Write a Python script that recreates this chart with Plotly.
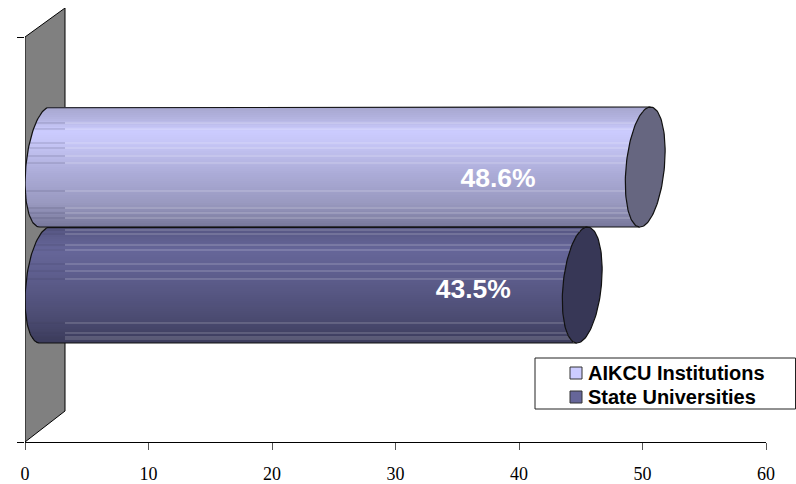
import numpy as np
import plotly.graph_objects as go

series_names = ["AIKCU Institutions", "State Universities"]
series_values = [48.6, 43.5]
x_ticks = [0, 10, 20, 30, 40, 50, 60]
legend_colors = ["#ccccff", "#666699"]
end_colors = ["#666680", "#373756"]
bar_centers = [275, 157]
bar_half = [60, 58]
light_streaks = [
    [16, 22, 36, 41, 49, 56, 84, 101, 106, 111],
    [3, 7, 18, 23, 37, 44, 52, 96, 106, 110, 112],
]
grad_stops = [
    [(0, "#a6a6cf"), (0.1, "#b4b4e0"), (0.2, "#ccccff"), (0.32, "#c4c4f4"), (0.55, "#acacd8"), (0.8, "#9999c0"), (1, "#77779a")],
    [(0, "#565682"), (0.1, "#5e5e8e"), (0.2, "#666699"), (0.4, "#5e5e8e"), (0.6, "#555580"), (0.8, "#4a4a70"), (1, "#3c3c5c")],
]

PX = 741 / 60.0          # pixels per axis unit
DEPTH = 20 / PX          # 3-D offset of the bar centres
WALL = 40 / PX           # width of the side wall
A = 19.2 / PX            # ellipse half width
SLANT = 5.3 / PX         # ellipse tilt


def hex2rgb(h):
    return np.array([int(h[i:i + 2], 16) for i in (1, 3, 5)], float)


def shade(stops, t):
    ts = [s[0] for s in stops]
    cols = np.array([hex2rgb(s[1]) for s in stops])
    rgb = [np.interp(t, ts, cols[:, k]) for k in range(3)]
    return "rgb(%d,%d,%d)" % tuple(round(c) for c in rgb)


fig = go.Figure()

# solid bars carrying the series names
for i, (name, val) in enumerate(zip(series_names, series_values)):
    fig.add_trace(go.Bar(
        name=name, orientation="h", y=[bar_centers[i]], x=[val], base=[DEPTH],
        width=[bar_half[i] * 1.6], marker=dict(color=legend_colors[i], line=dict(width=0)),
        hoverinfo="skip", showlegend=False,
    ))

# cylinder shading
for i, val in enumerate(series_values):
    yc, H = bar_centers[i], bar_half[i]
    n = int(H)
    edges = np.linspace(-1, 1, n + 1)
    v = (edges[:-1] + edges[1:]) / 2
    s = SLANT * v
    w = A * np.sqrt(1 - v ** 2)
    fig.add_trace(go.Bar(
        orientation="h", y=yc + v * H, x=[val] * n, base=DEPTH + s - w,
        width=[2 * H / n + 0.6] * n,
        marker=dict(color=[shade(grad_stops[i], (1 - t) / 2) for t in v], line=dict(width=0)),
        hoverinfo="skip", showlegend=False,
    ))

# streaks, end caps, outlines
theta = np.linspace(0, 2 * np.pi, 121)
for i, val in enumerate(series_values):
    yc, H = bar_centers[i], bar_half[i]
    xs_l, ys_l, xs_d, ys_d = [], [], [], []
    for off in light_streaks[i]:
        y = yc + H - off
        v = (y - yc) / H
        left = DEPTH + SLANT * v - A * np.sqrt(1 - v ** 2)
        xs_d += [left, WALL, None]
        ys_d += [y, y, None]
        xs_l += [WALL, val + DEPTH + SLANT * v, None]
        ys_l += [y, y, None]
    fig.add_trace(go.Scatter(x=xs_l, y=ys_l, mode="lines", line=dict(color="rgba(255,255,255,0.3)", width=1),
                             hoverinfo="skip", showlegend=False))
    fig.add_trace(go.Scatter(x=xs_d, y=ys_d, mode="lines", line=dict(color="rgba(60,60,90,0.28)", width=1),
                             hoverinfo="skip", showlegend=False))
    # body outline: left arc and the two long edges
    t1 = np.linspace(np.pi / 2, 3 * np.pi / 2, 61)
    ox = list(val + DEPTH + SLANT * np.array([1.0])) + list(DEPTH + SLANT * np.sin(t1) + A * np.cos(t1)) + [val + DEPTH - SLANT]
    oy = [yc + H] + list(yc + H * np.sin(t1)) + [yc - H]
    fig.add_trace(go.Scatter(x=ox, y=oy, mode="lines", line=dict(color="#111111", width=1.2),
                             hoverinfo="skip", showlegend=False))
    # end ellipse
    ex = val + DEPTH + SLANT * np.sin(theta) + A * np.cos(theta)
    ey = yc + H * np.sin(theta)
    fig.add_trace(go.Scatter(x=ex, y=ey, mode="lines", fill="toself", fillcolor=end_colors[i],
                             line=dict(color="#111111", width=1.2), hoverinfo="skip", showlegend=False))

# value labels
fig.add_trace(go.Scatter(
    x=[38.3, 36.3], y=[262, 151], mode="text",
    text=[f"{v}%" for v in series_values],
    textfont=dict(family="Liberation Sans", size=26.5, color="white", weight="bold"),
    hoverinfo="skip", showlegend=False,
))

# legend box, swatches and labels
leg_shapes = [dict(type="rect", xref="paper", yref="paper", layer="above",
                   x0=(535 - 25) / 741, x1=(795.5 - 25) / 741, y0=(442 - 409) / 434, y1=(442 - 358) / 434,
                   line=dict(color="#222222", width=1), fillcolor="rgba(0,0,0,0)")]
leg_annots = []
for i, name in enumerate(series_names):
    yc_px = 373 + 24 * i
    leg_shapes.append(dict(type="rect", xref="paper", yref="paper", layer="above",
                           x0=(570 - 25) / 741, x1=(582 - 25) / 741,
                           y0=(442 - yc_px - 6) / 434, y1=(442 - yc_px + 6) / 434,
                           fillcolor=legend_colors[i], line=dict(color="#333333", width=1)))
    leg_annots.append(dict(xref="paper", yref="paper", x=(588 - 25) / 741, y=(442 - yc_px) / 434,
                           xanchor="left", yanchor="middle", showarrow=False, text=f"<b>{name}</b>",
                           xshift=-2,
                           font=dict(family="Liberation Sans", size=20, color="black")))

fig.update_layout(
    width=796, height=484, autosize=False,
    margin=dict(l=25, r=30, t=8, b=42, pad=0, autoexpand=False),
    paper_bgcolor="white", plot_bgcolor="white",
    barmode="overlay", bargap=0,
    showlegend=False,
    annotations=leg_annots,
    xaxis=dict(range=[0, 60], tickvals=x_ticks, ticktext=[str(t) for t in x_ticks],
               showgrid=False, zeroline=False, showline=True, linecolor="black", linewidth=1,
               ticks="outside", ticklen=7, tickcolor="#555555", tickwidth=1,
               ticklabelstandoff=8, automargin=False,
               tickfont=dict(family="Liberation Serif", size=18, color="black")),
    yaxis=dict(range=[0, 434], tickvals=[0, 405], showticklabels=False,
               showgrid=False, zeroline=False, showline=False, automargin=False,
               ticks="outside", ticklen=7, tickcolor="black", tickwidth=1),
    shapes=[
        dict(type="path", xref="x", yref="y", layer="below",
             path=f"M 0 0 L 0 405 L {WALL} 434 L {WALL} 31 Z",
             fillcolor="#808080", line=dict(color="black", width=1)),
    ] + leg_shapes,
)

fig.write_html("out.html", config=dict(displayModeBar=False),
               post_script="document.body.style.margin='0';")
